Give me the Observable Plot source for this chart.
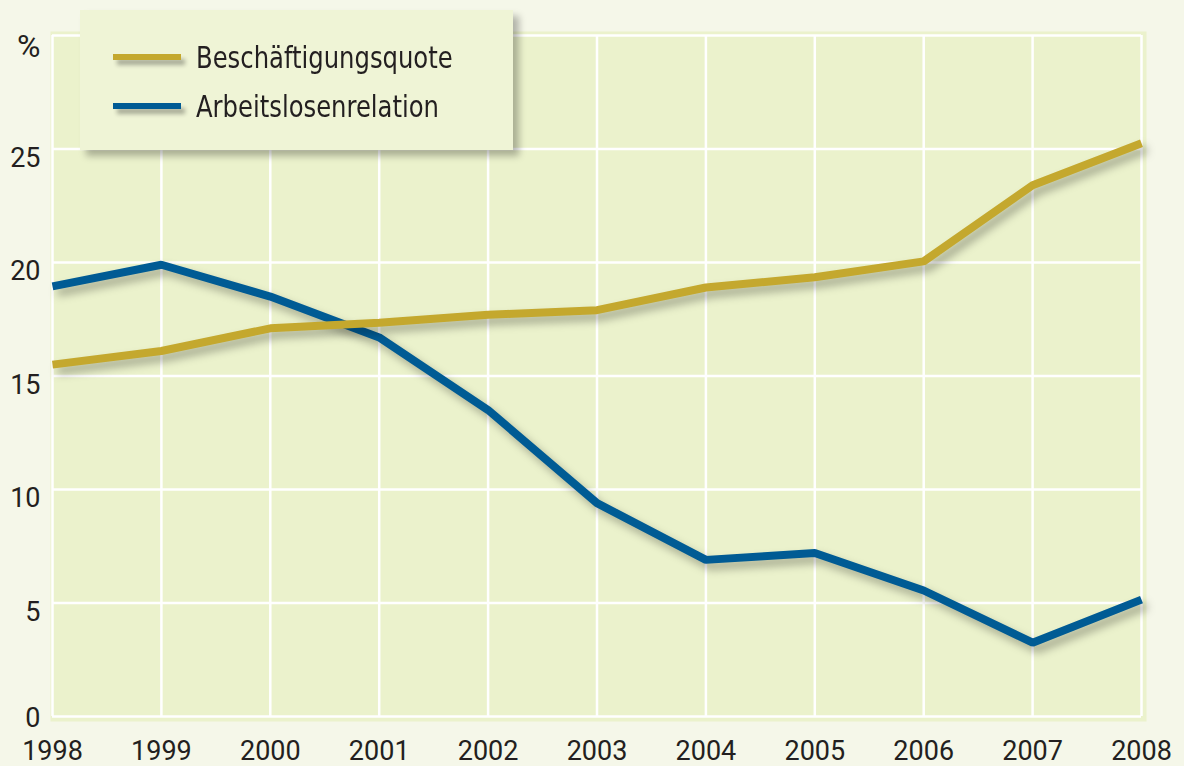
<!DOCTYPE html>
<html>
<head>
<meta charset="utf-8">
<script src="https://cdn.jsdelivr.net/npm/d3@7"></script>
<script src="https://cdn.jsdelivr.net/npm/@observablehq/plot@0.6"></script>
<style>
  html, body { margin: 0; padding: 0; background: #f5f7e9; }
  #wrap { position: relative; width: 1184px; height: 766px; overflow: hidden; }
  #legend {
    position: absolute; left: 80px; top: 10px; width: 433px; height: 140px;
    background: #eff4d6; box-shadow: 6px 6px 7px rgba(0,0,0,0.28);
    font-family: "Liberation Sans Narrow", "DejaVu Sans Condensed", "Roboto", sans-serif;
    font-size: 30px; color: #231f20;
  }
  .item { position: absolute; left: 33px; height: 34px; display: flex; align-items: center; white-space: nowrap; }
  .sw { width: 68px; height: 6px; margin-right: 15px; box-shadow: 4px 5px 4px rgba(0,0,0,0.3); flex: none; }
  .lbl { display: inline-block; transform: scaleX(0.9); transform-origin: left center; }
</style>
</head>
<body>
<div id="wrap">
  <div id="chart"></div>
  <div id="legend"></div>
</div>
<script>
const years = [1998, 1999, 2000, 2001, 2002, 2003, 2004, 2005, 2006, 2007, 2008];
const beschaeftigungsquote = [15.5, 16.1, 17.1, 17.35, 17.7, 17.9, 18.9, 19.35, 20.05, 23.4, 25.25];
const arbeitslosenrelation = [18.95, 19.9, 18.5, 16.7, 13.5, 9.4, 6.9, 7.2, 5.55, 3.25, 5.15];
const seriesNames = ["Beschäftigungsquote", "Arbeitslosenrelation"];
const seriesColors = ["#c4a82e", "#005b94"];
const yTicks = [0, 5, 10, 15, 20, 25, 30];
const yTickLabels = ["0", "5", "10", "15", "20", "25", "%"];

const gold = years.map((y, i) => ({year: y, value: beschaeftigungsquote[i]}));
const blue = years.map((y, i) => ({year: y, value: arbeitslosenrelation[i]}));

const chart = Plot.plot({
  width: 1184,
  height: 766,
  marginLeft: 52,
  marginRight: 43,
  marginTop: 35,
  marginBottom: 50,
  style: {background: "transparent", fontFamily: "Roboto, sans-serif", fontSize: "27px", color: "#231f20"},
  x: {domain: [1998, 2008], ticks: years, tickFormat: d => String(d), tickSize: 0, tickPadding: 8, label: null},
  y: {domain: [0, 30], ticks: yTicks, tickFormat: d => yTickLabels[yTicks.indexOf(d)], tickSize: 0, tickPadding: 12, label: null},
  marks: [
    Plot.frame({fill: "#ebf2cc", stroke: null, insetLeft: -2, insetRight: -5, insetTop: -4, insetBottom: -5}),
    Plot.ruleX(years, {stroke: "white", strokeWidth: 2.5}),
    Plot.ruleY(yTicks, {stroke: "white", strokeWidth: 2.5}),
    Plot.line(blue, {x: "year", y: "value", stroke: seriesColors[1], strokeWidth: 8, strokeLinejoin: "miter", strokeLinecap: "butt", className: "shadowline"}),
    Plot.line(gold, {x: "year", y: "value", stroke: seriesColors[0], strokeWidth: 8, strokeLinejoin: "miter", strokeLinecap: "butt", className: "shadowline"}),
  ]
});
document.getElementById("chart").appendChild(chart);
d3.select(chart).selectAll(".shadowline").style("filter", "drop-shadow(5px 6px 4px rgba(0,0,0,0.3))");
d3.select(chart).selectAll("g[aria-label='y-axis tick label'] text").attr("dy", "0.34em");
d3.select(chart).selectAll("g[aria-label='y-axis tick label'] text").filter(function() { return this.textContent === "0"; }).attr("dy", "0.06em");
d3.select(chart).selectAll("g[aria-label='x-axis tick label'] text").attr("dy", "0.62em");
d3.select(chart).selectAll("g[aria-label='y-axis tick label'] text").filter(function() { return this.textContent === "%"; }).style("font-size", "32px");

const legend = document.getElementById("legend");
seriesNames.forEach((name, i) => {
  const item = document.createElement("div");
  item.className = "item";
  item.style.top = (30 + i * 49) + "px";
  const sw = document.createElement("div");
  sw.className = "sw";
  sw.style.background = seriesColors[i];
  const t = document.createElement("span");
  t.className = "lbl";
  t.textContent = name;
  item.appendChild(sw); item.appendChild(t);
  legend.appendChild(item);
});
</script>
</body>
</html>
